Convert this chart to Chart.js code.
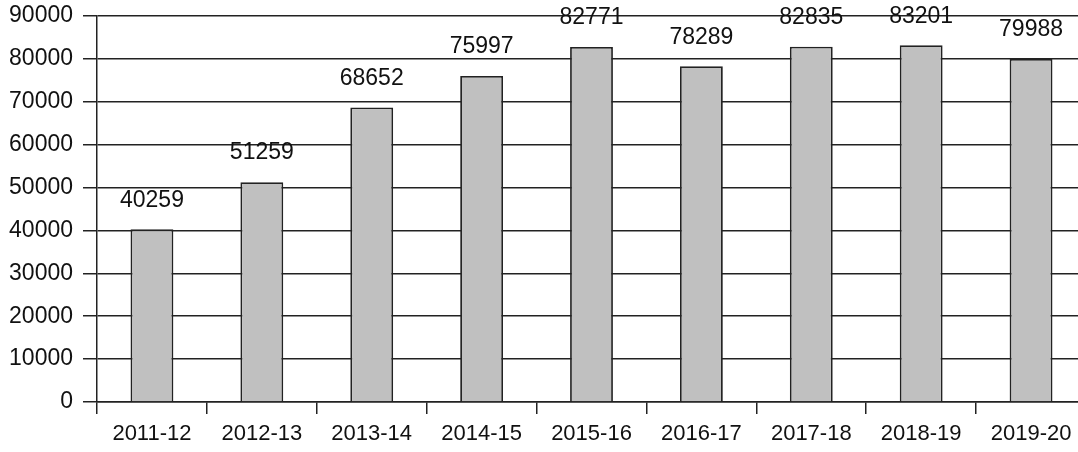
<!DOCTYPE html>
<html>
<head>
<meta charset="utf-8">
<script src="https://cdn.jsdelivr.net/npm/chart.js@4/dist/chart.umd.min.js"></script>
<style>
  html, body { margin: 0; padding: 0; background: #fff; overflow: hidden; }
  #wrap { width: 1078px; height: 452px; overflow: hidden; }
  #box { width: 1092px; height: 452px; }
</style>
</head>
<body>
<div id="wrap"><div id="box"><canvas id="barChart"></canvas></div></div>
<script>
// chart data
const years = ['2011-12', '2012-13', '2013-14', '2014-15', '2015-16', '2016-17', '2017-18', '2018-19', '2019-20'];
const counts = [40259, 51259, 68652, 75997, 82771, 78289, 82835, 83201, 79988];
const yTicks = [0, 10000, 20000, 30000, 40000, 50000, 60000, 70000, 80000, 90000];

const FONT = '"Liberation Sans", Arial, sans-serif';
const INK = '#222';

// draw the value above each bar
const valueLabels = {
    id: 'valueLabels',
    afterDatasetsDraw(chart) {
        const ctx = chart.ctx;
        const meta = chart.getDatasetMeta(0);
        ctx.save();
        ctx.font = '23px ' + FONT;
        ctx.fillStyle = '#111';
        ctx.textAlign = 'center';
        ctx.textBaseline = 'middle';
        meta.data.forEach((bar, i) => {
            ctx.fillText(String(counts[i]), bar.x, bar.y - 29);
        });
        ctx.restore();
    }
};

new Chart(document.getElementById('barChart'), {
    type: 'bar',
    data: {
        labels: years,
        datasets: [{
            data: counts,
            backgroundColor: '#c0c0c0',
            borderColor: INK,
            borderWidth: 1.8,
            barPercentage: 0.39,
            categoryPercentage: 1.0
        }]
    },
    options: {
        responsive: true,
        maintainAspectRatio: false,
        animation: false,
        layout: { padding: { top: 16, right: 6, left: 0, bottom: 0 } },
        plugins: {
            legend: { display: false },
            tooltip: { enabled: false }
        },
        scales: {
            x: {
                offset: true,
                grid: {
                    offset: true,
                    drawOnChartArea: false,
                    color: INK,
                    lineWidth: 1.5,
                    tickLength: 12
                },
                border: { color: INK, width: 1.5 },
                ticks: {
                    color: '#111',
                    font: { family: FONT, size: 22 },
                    padding: 7,
                    maxRotation: 0,
                    autoSkip: false
                },
                afterFit(scale) {
                    scale.height = 50;
                    scale.paddingLeft = 0;
                    scale.paddingRight = 0;
                }
            },
            y: {
                min: 0,
                max: 90000,
                afterBuildTicks(scale) {
                    scale.ticks = yTicks.map(v => ({ value: v }));
                },
                grid: {
                    color: INK,
                    lineWidth: 1.5,
                    tickLength: 14
                },
                border: { color: INK, width: 1.5 },
                ticks: {
                    color: '#111',
                    font: { family: FONT, size: 23 },
                    padding: 10,
                    callback: v => String(v)
                },
                afterFit(scale) {
                    scale.width = 97;
                    scale.paddingTop = 0;
                    scale.paddingBottom = 0;
                }
            }
        }
    },
    plugins: [valueLabels]
});
</script>
</body>
</html>
